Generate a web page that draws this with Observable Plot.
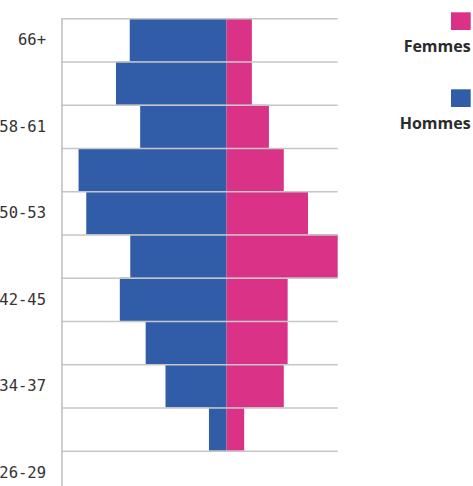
<!DOCTYPE html>
<html><head><meta charset="utf-8">
<script src="https://cdn.jsdelivr.net/npm/d3@7"></script>
<script src="https://cdn.jsdelivr.net/npm/@observablehq/plot@0.6"></script>
<style>
html,body{margin:0;padding:0;background:#fff;overflow:hidden}
#wrap{position:relative;width:473px;height:486px}
#legend{position:absolute;left:0;top:0;pointer-events:none}
</style>
</head><body><div id="wrap"></div>
<script>
const ages = ["66+","62-65","58-61","54-57","50-53","46-49","42-45","38-41","34-37","30-33","26-29"];
const hommes = [17.6, 20.1, 15.7, 26.9, 25.5, 17.5, 19.4, 14.7, 11.1, 3.2, 0];
const femmes = [4.6, 4.6, 7.7, 10.4, 14.8, 20.2, 11.1, 11.1, 10.4, 3.2, 0];
const labelled = [0, 2, 4, 6, 8, 10];
const legendItems = [{label: "Femmes", color: "#d93287"}, {label: "Hommes", color: "#305ca8"}];

const blue = "#305ca8", pink = "#d93287";
const rows = ages.map((a, i) => ({age: a, i, hommes: hommes[i], femmes: femmes[i]}));

const chart = Plot.plot({
  width: 473, height: 486,
  marginLeft: 61.5, marginRight: 135.3, marginTop: 18.3, marginBottom: 0,
  x: {domain: [-30, 20.2], axis: null},
  y: {domain: [0, 11], range: [18.3, 493.9], axis: null},
  style: {fontFamily: "'DejaVu Sans Mono', monospace", fontSize: "15.5px", color: "#333", background: "#fff"},
  marks: [
    Plot.rect(rows, {x1: 0, x2: d => -d.hommes, y1: "i", y2: d => d.i + 1, fill: blue}),
    Plot.rect(rows, {x1: 0, x2: "femmes", y1: "i", y2: d => d.i + 1, fill: pink}),
    Plot.ruleY(d3.range(0, 11), {stroke: "#c6c6c6", strokeWidth: 1.5}),
    Plot.ruleX([-30], {stroke: "#bdbdbd", strokeWidth: 1.5}),
    Plot.axisY({
      ticks: labelled.map(i => i + 0.5),
      tickFormat: v => ages[Math.floor(v)],
      tickSize: 0, tickPadding: 16, fill: "#333", fontSize: 15.5, label: null
    })
  ]
});
const wrap = document.getElementById("wrap");
wrap.appendChild(chart);

// legend overlay
const ns = "http://www.w3.org/2000/svg";
const lg = document.createElementNS(ns, "svg");
lg.setAttribute("id", "legend");
lg.setAttribute("width", 473);
lg.setAttribute("height", 486);
legendItems.forEach((it, k) => {
  const top = 12.3 + k * 77;
  const r = document.createElementNS(ns, "rect");
  r.setAttribute("x", 451); r.setAttribute("y", top);
  r.setAttribute("width", 19.7); r.setAttribute("height", 17.7);
  r.setAttribute("fill", it.color);
  lg.appendChild(r);
  const t = document.createElementNS(ns, "text");
  t.setAttribute("x", 470.7); t.setAttribute("y", top + 39.4);
  t.setAttribute("text-anchor", "end");
  t.setAttribute("font-family", "'Open Sans', sans-serif");
  t.setAttribute("font-weight", "bold");
  t.setAttribute("font-size", 16);
  t.setAttribute("fill", "#2b2b2b");
  t.textContent = it.label;
  lg.appendChild(t);
});
wrap.appendChild(lg);
</script>
</body></html>
